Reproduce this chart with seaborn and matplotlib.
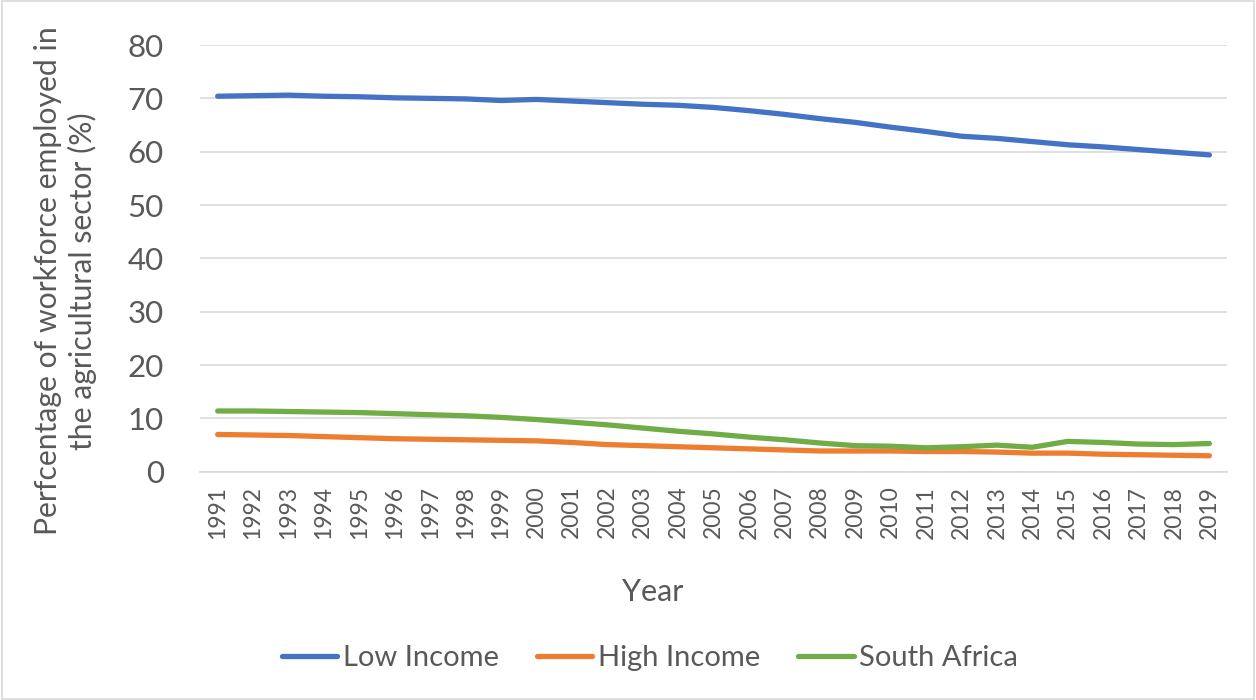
import matplotlib
matplotlib.use("Agg")
import matplotlib.pyplot as plt
import seaborn as sns
import pandas as pd
from matplotlib.patches import Rectangle

years = list(range(1991, 2020))
low_income = [70.4, 70.5, 70.6, 70.4, 70.3, 70.1, 70.0, 69.9, 69.6, 69.8,
              69.5, 69.2, 68.9, 68.7, 68.3, 67.7, 67.0, 66.2, 65.5, 64.6,
              63.8, 62.9, 62.5, 61.9, 61.3, 60.9, 60.4, 59.9, 59.4]
high_income = [7.0, 6.9, 6.8, 6.6, 6.4, 6.2, 6.1, 6.0, 5.9, 5.8,
               5.5, 5.1, 4.9, 4.7, 4.5, 4.3, 4.1, 3.9, 3.9, 3.9,
               3.8, 3.8, 3.7, 3.5, 3.5, 3.3, 3.2, 3.1, 3.0]
south_africa = [11.4, 11.4, 11.3, 11.2, 11.1, 10.9, 10.7, 10.5, 10.2, 9.8,
                9.3, 8.8, 8.2, 7.6, 7.1, 6.5, 6.0, 5.4, 4.9, 4.8,
                4.5, 4.7, 5.0, 4.6, 5.7, 5.5, 5.2, 5.1, 5.3]
series_names = ["Low Income", "High Income", "South Africa"]
series_colors = ["#4472C4", "#ED7D31", "#70AD47"]
y_ticks = [0, 10, 20, 30, 40, 50, 60, 70, 80]

df = pd.concat([
    pd.DataFrame({"Year": years, "Value": vals, "Series": name})
    for name, vals in zip(series_names, [low_income, high_income, south_africa])
])

sns.set_theme(style="white")
plt.rcParams["font.family"] = ["Lato", "DejaVu Sans"]
text_color = "#595959"
grid_color = "#D9D9D9"

fig = plt.figure(figsize=(12.56, 7.0), dpi=100)
ax = fig.add_axes([0.1592, 0.326, 0.8178, 0.6097])

sns.lineplot(data=df, x="Year", y="Value", hue="Series", hue_order=series_names,
             palette=series_colors, linewidth=3.8, ax=ax, legend=False,
             solid_capstyle="round")

ax.set_xlim(1990.5, 2019.5)
ax.set_ylim(0, 80)
ax.set_yticks(y_ticks)
ax.set_xticks(years)
ax.set_xticklabels([str(y) for y in years], rotation=90, fontsize=16.5,
                   color=text_color)
ax.set_yticklabels([str(t) for t in y_ticks], fontsize=22.5, color=text_color)
ax.tick_params(axis="y", length=0, pad=26)
ax.tick_params(axis="x", length=0, pad=10)

ax.grid(axis="y", color=grid_color, linewidth=1.2)
ax.set_axisbelow(True)
for side in ["left", "right", "top"]:
    ax.spines[side].set_visible(False)
ax.spines["bottom"].set_color(grid_color)
ax.spines["bottom"].set_linewidth(1.2)

ax.set_xlabel("Year", fontsize=22, color=text_color)
ax.xaxis.set_label_coords(0.441, -0.248)
ax.set_ylabel("Perfcentage of workforce employed in\nthe agricultural sector (%)",
              fontsize=21.7, color=text_color, linespacing=1.25)
ax.yaxis.set_label_coords(-0.100, 0.447)

handles = [plt.Line2D([], [], color=c, linewidth=3.8, solid_capstyle="round")
           for c in series_colors]
fig.legend(handles, series_names, loc="center", bbox_to_anchor=(0.5175, 0.06),
           ncol=3, frameon=False, fontsize=21, handlelength=1.9,
           handletextpad=0.2, columnspacing=1.3, labelcolor=text_color)

fig.patches.append(Rectangle((0.0015, 0.002), 0.997, 0.996, transform=fig.transFigure,
                             fill=False, edgecolor=grid_color, linewidth=1.2))

fig.savefig("out.png", dpi=100, facecolor="white")
